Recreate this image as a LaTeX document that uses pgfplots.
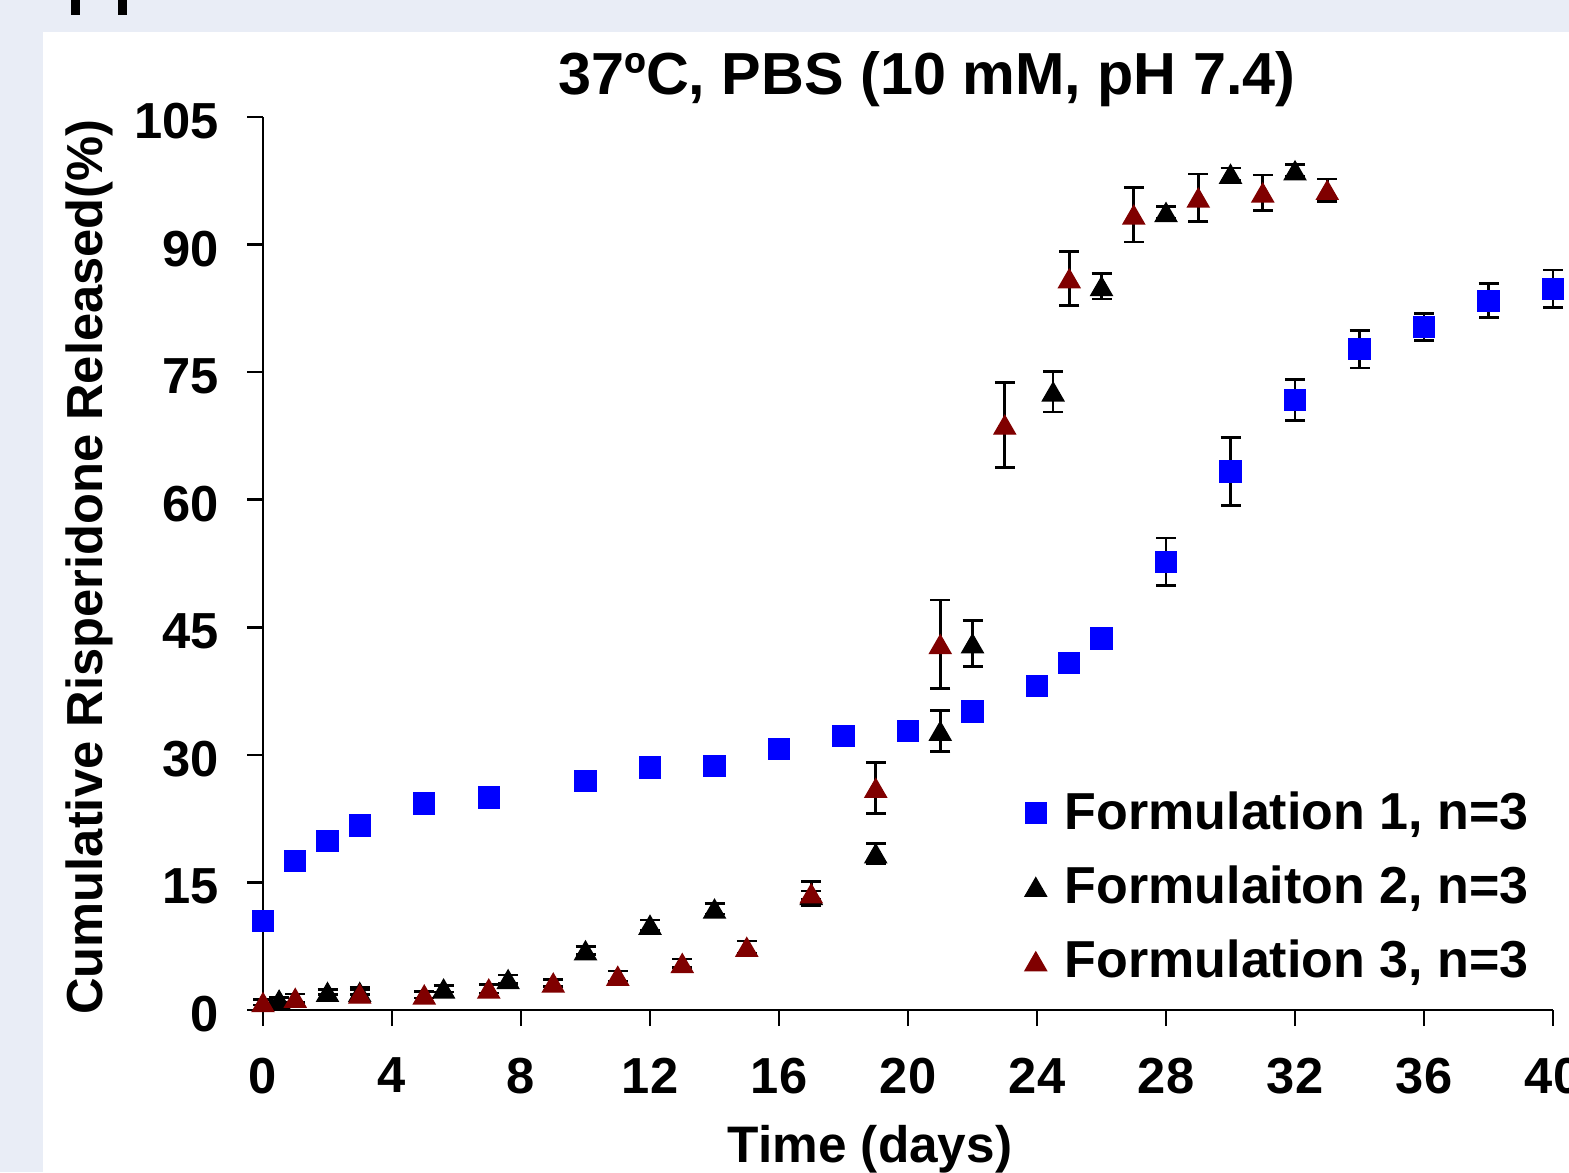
\documentclass[border=0pt]{standalone}
\usepackage{fontspec}
\setmainfont{Liberation Sans}
\usepackage{pgfplots}
\usepackage{pgfplotstable}
\pgfplotsset{compat=1.18}
\definecolor{pagebg}{HTML}{E9EDF6}
\definecolor{fblue}{HTML}{0000FF}
\definecolor{fred}{HTML}{800000}

% Formulation 1
\pgfplotstableread{
x y e
0 10.5 0
1 17.5 0
2 19.9 0
3 21.7 0
5 24.3 0
7 25.0 0
10 26.9 0
12 28.5 0
14 28.7 0
16 30.7 0
18 32.2 0
20 32.8 0
22 35.1 0
24 38.1 0
25 40.8 0
26 43.7 0
28 52.7 2.8
30 63.3 4.0
32 71.7 2.4
34 77.7 2.2
36 80.3 1.6
38 83.4 2.0
40 84.8 2.2
}\fone

% Formulation 2
\pgfplotstableread{
x y e
0.5 1.2 0.3
2 2.1 0.3
3 2.1 0.3
5.6 2.5 0.4
7.6 3.6 0.5
10 7.0 0.5
12 10.0 0.6
14 11.9 0.6
17 13.5 0.5
19 18.4 1.2
21 32.8 2.4
22 43.1 2.7
24.5 72.7 2.4
26 85.1 1.5
28 93.8 0.7
30 98.3 0.7
32 98.7 0.7
}\ftwo

% Formulation 3
\pgfplotstableread{
x y e
0 0.9 0.3
1 1.4 0.5
3 1.9 0.8
5 1.8 0.4
7 2.5 0.5
9 3.2 0.4
11 4.0 0.6
13 5.5 0.5
15 7.4 0.7
17 13.7 1.4
19 26.1 3.0
21 43.0 5.2
23 68.8 5.0
25 86.0 3.2
27 93.5 3.2
29 95.5 2.8
31 96.1 2.1
33 96.4 1.3
}\fthree

\begin{document}
\begin{tikzpicture}
\useasboundingbox (0,0) rectangle (470.7pt,351.6pt);
\fill[pagebg] (0,0) rectangle (470.7pt,351.6pt);
\fill[white] (12.9pt,0) rectangle (470.7pt,342pt);
\fill[black] (21.3pt,347.1pt) rectangle (24pt,351.6pt);
\fill[black] (35.4pt,347.1pt) rectangle (38.1pt,351.6pt);

\begin{axis}[
  at={(78.9pt,48.6pt)}, anchor=south west,
  scale only axis, width=387pt, height=267.9pt,
  xmin=0, xmax=40, ymin=0, ymax=105,
  xtick={0,4,...,40}, ytick={0,15,...,105},
  axis lines=left, axis line style={line width=0.75pt, -},
  tick align=outside, major tick length=4.8pt,
  tick style={line width=0.75pt, black},
  /pgf/number format/assume math mode=true,
  ticklabel style={font=\fontsize{15.2}{18}\selectfont\bfseries},
  yticklabel style={xshift=-5pt, yshift=-1.2pt},
  xticklabel style={yshift=-6pt},
  clip=false,
  error bars/y dir=both, error bars/y explicit,
  error bars/error bar style={line width=0.8pt, black},
  error bars/error mark options={rotate=90, mark size=3pt, line width=0.8pt, black},
  legend style={at={(axis cs:23.3,27.35)}, anchor=north west, draw=none, fill=none,
    font=\fontsize{15.6}{18}\selectfont\bfseries, row sep=5.5pt},
  legend cell align=left,
  legend image code/.code={\draw[#1] plot coordinates {(0pt,0pt)}; \path (6.5pt,0pt);},
]
\addplot[only marks, mark=square*, mark size=3.15pt, color=fblue]
  table[x=x, y=y, y error=e] {\fone};
\addlegendentry{Formulation 1, n=3}
\addplot[only marks, mark=triangle*, mark size=3.7pt, color=black, mark options={yshift=-0.9pt}]
  table[x=x, y=y, y error=e] {\ftwo};
\addlegendentry{Formulaiton 2, n=3}
\addplot[only marks, mark=triangle*, mark size=3.7pt, color=fred, mark options={yshift=-0.9pt}]
  table[x=x, y=y, y error=e] {\fthree};
\addlegendentry{Formulation 3, n=3}
\end{axis}

\node[anchor=base, font=\fontsize{17.8}{20}\selectfont\bfseries] at (278.1pt,323.1pt) {37ºC, PBS (10 mM, pH 7.4)};
\node[anchor=base, rotate=90, font=\fontsize{15.2}{18}\selectfont\bfseries] at (30.6pt,181.5pt) {Cumulative Risperidone Released(\%)};
\node[anchor=base, font=\fontsize{15.4}{18}\selectfont\bfseries] at (261pt,3pt) {Time (days)};
\end{tikzpicture}
\end{document}
